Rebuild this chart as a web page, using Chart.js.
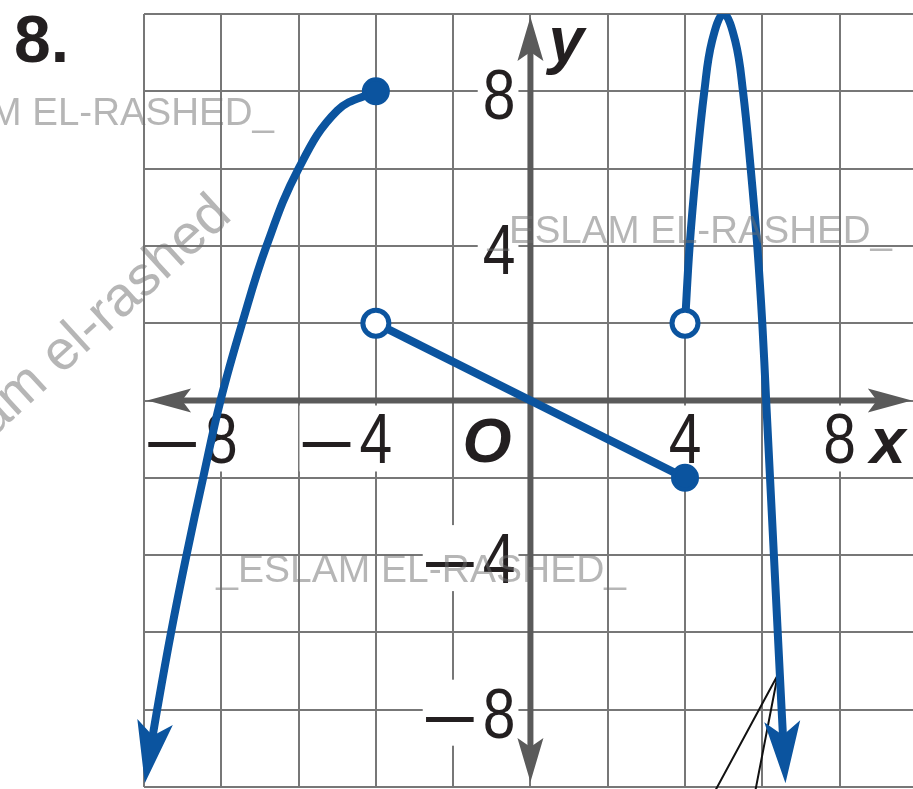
<!DOCTYPE html>
<html>
<head>
<meta charset="utf-8">
<script src="https://cdn.jsdelivr.net/npm/chart.js@4.4.0/dist/chart.umd.min.js"></script>
<style>
  html, body { margin: 0; padding: 0; background: #fff; overflow: hidden; }
  canvas { display: block; }
</style>
</head>
<body>
<canvas id="graph" width="913" height="789"></canvas>
<script>
// left branch (arrow at the lower end)
const leftX = [-9.98, -9.66, -9.3, -8.9, -8.47, -8.02, -7.46, -6.83, -6.0, -5.0, -4.0];
const leftY = [-9.9, -8, -6, -4, -2, 0, 2, 4, 6, 7.5, 8];
// middle piece
const midX = [-4, 4];
const midY = [2, -2];
// right branch (arrow at the lower end)
const rightX = [4, 4.12, 4.29, 4.5, 4.7, 5, 5.3, 5.5, 5.7, 5.87, 6.0, 6.1, 6.3, 6.5, 6.6];
const rightY = [2, 4, 6, 8, 9.3, 10, 9.3, 8, 6, 4, 2, 0, -4, -8, -9.9];
// endpoints
const closedX = [-4, 4];
const closedY = [8, -2];
const openX = [-4, 4];
const openY = [2, 2];
// thin black pointer
const pointerX = [4.78, 6.4, 5.82];
const pointerY = [-10.1, -7.1, -10.1];

const xTicks = [-8, -4, 4, 8];
const yTicks = [-8, -4, 4, 8];

const blue = '#0b549f';
const ink = '#231f20';
const axisGray = '#5a5a5a';

function pts(xs, ys) {
  return xs.map((x, i) => ({ x: x, y: ys[i] }));
}

function unit(a, b) {
  const dx = b.x - a.x, dy = b.y - a.y;
  const d = Math.hypot(dx, dy);
  return { x: dx / d, y: dy / d };
}

// swept arrow head pointing from -> tip
function arrowHead(ctx, tip, from, len, half, notch, color) {
  const u = unit(from, tip);
  const bx = tip.x - u.x * len, by = tip.y - u.y * len;
  ctx.beginPath();
  ctx.moveTo(tip.x, tip.y);
  ctx.lineTo(bx - u.y * half, by + u.x * half);
  ctx.lineTo(tip.x - u.x * (len - notch), tip.y - u.y * (len - notch));
  ctx.lineTo(bx + u.y * half, by - u.x * half);
  ctx.closePath();
  ctx.fillStyle = color;
  ctx.fill();
}

const ARROW = { len: 62, half: 18, notch: 14, cut: 20 };

function headPoints(meta, end) {
  const p = meta.data;
  if (end === 'start') return { tip: p[0], from: p[1] };
  return { tip: p[p.length - 1], from: p[p.length - 2] };
}

const curveArrows = {
  id: 'curveArrows',
  beforeDatasetDraw(chart, args) {
    const ds = chart.data.datasets[args.index];
    if (!ds.arrow) return;
    const { tip, from } = headPoints(args.meta, ds.arrow);
    const u = unit(from, tip);
    const cx = tip.x - u.x * ARROW.cut, cy = tip.y - u.y * ARROW.cut;
    const R = 3000;
    const ctx = chart.ctx;
    // keep the thick line behind the arrow head
    ctx.save();
    ctx.beginPath();
    ctx.moveTo(cx - u.y * R, cy + u.x * R);
    ctx.lineTo(cx + u.y * R, cy - u.x * R);
    ctx.lineTo(cx + u.y * R - u.x * R, cy - u.x * R - u.y * R);
    ctx.lineTo(cx - u.y * R - u.x * R, cy + u.x * R - u.y * R);
    ctx.closePath();
    ctx.clip();
  },
  afterDatasetDraw(chart, args) {
    const ds = chart.data.datasets[args.index];
    if (!ds.arrow) return;
    chart.ctx.restore();
    const { tip, from } = headPoints(args.meta, ds.arrow);
    arrowHead(chart.ctx, tip, from, ARROW.len, ARROW.half, ARROW.notch, ds.borderColor);
  }
};

const numFont = '70px "Liberation Sans", Arial, sans-serif';
const NUM_SX = 0.84;

function numBox(ctx, n, digitCenter) {
  ctx.font = numFont;
  const w = ctx.measureText(String(Math.abs(n))).width * NUM_SX;
  return { left: digitCenter - w / 2, right: digitCenter + w / 2, w: w };
}

function drawNum(ctx, n, left, baseline) {
  ctx.font = numFont;
  ctx.fillStyle = ink;
  ctx.textBaseline = 'alphabetic';
  ctx.save();
  ctx.translate(left, baseline);
  ctx.scale(NUM_SX, 1);
  ctx.textAlign = 'left';
  ctx.fillText(String(Math.abs(n)), 0, 0);
  ctx.restore();
  if (n < 0) {
    // long thin minus sign
    ctx.save();
    ctx.translate(left - 4, baseline + 5);
    ctx.scale(1.4, 1);
    ctx.textAlign = 'right';
    ctx.fillText('\u2212', 0, 0);
    ctx.restore();
  }
}

const axesAndLabels = {
  id: 'axesAndLabels',
  beforeDatasetsDraw(chart) {
    const ctx = chart.ctx;
    const xs = chart.scales.x, ys = chart.scales.y;
    const ox = xs.getPixelForValue(0), oy = ys.getPixelForValue(0);

    const xl = xTicks.map(v => {
      const b = numBox(ctx, v, xs.getPixelForValue(v));
      return { v: v, b: b, base: oy + 62 };
    });
    const yl = yTicks.map(v => {
      const right = ox - 15;
      const b = numBox(ctx, v, 0);
      const left = right - b.w;
      return { v: v, b: { left: left, right: right, w: b.w }, base: ys.getPixelForValue(v) + 28 };
    });

    // white boxes behind the numbers
    ctx.save();
    ctx.fillStyle = '#fff';
    xl.forEach(l => {
      const x0 = l.b.left - (l.v < 0 ? 60 : 6);
      ctx.fillRect(x0, oy + 5, l.b.right + 6 - x0, 66);
    });
    yl.forEach(l => {
      const x0 = l.b.left - (l.v < 0 ? 60 : 5);
      ctx.fillRect(x0, l.base - 58, ox - 12 - x0, 66);
    });

    // axes with arrow heads
    const xa = xs.getPixelForValue(-9.92), xb = xs.getPixelForValue(9.87);
    const ya = ys.getPixelForValue(9.92), yb = ys.getPixelForValue(-9.87);
    ctx.strokeStyle = axisGray;
    ctx.lineWidth = 6;
    ctx.beginPath();
    ctx.moveTo(xa + 30, oy); ctx.lineTo(xb - 30, oy);
    ctx.moveTo(ox, ya + 30); ctx.lineTo(ox, yb - 30);
    ctx.stroke();
    arrowHead(ctx, { x: xa, y: oy }, { x: ox, y: oy }, 44, 12, 9, axisGray);
    arrowHead(ctx, { x: xb, y: oy }, { x: ox, y: oy }, 44, 12, 9, axisGray);
    arrowHead(ctx, { x: ox, y: ya }, { x: ox, y: oy }, 44, 13, 9, axisGray);
    arrowHead(ctx, { x: ox, y: yb }, { x: ox, y: oy }, 44, 13, 9, axisGray);

    xl.forEach(l => drawNum(ctx, l.v, l.b.left, l.base));
    yl.forEach(l => drawNum(ctx, l.v, l.b.left, l.base));

    // origin and axis names
    ctx.fillStyle = ink;
    ctx.textAlign = 'left';
    ctx.textBaseline = 'alphabetic';
    ctx.font = 'italic bold 63px "Liberation Sans", Arial, sans-serif';
    ctx.fillText('O', ox - 68, oy + 61);
    ctx.font = 'italic bold 64px "Liberation Sans", Arial, sans-serif';
    ctx.fillText('x', 870, oy + 62);
    ctx.fillText('y', ox + 18, 62);

    // problem number
    ctx.font = 'bold 66px "Liberation Sans", Arial, sans-serif';
    ctx.fillText('8.', 14, 62);
    ctx.restore();
  },
  afterDraw(chart) {
    const ctx = chart.ctx;
    ctx.save();
    ctx.fillStyle = 'rgba(110,110,110,0.5)';
    ctx.textBaseline = 'alphabetic';
    ctx.textAlign = 'right';
    ctx.font = '38.5px "Liberation Sans", Arial, sans-serif';
    ctx.fillText('_ESLAM EL-RASHED_', 274, 125);
    ctx.fillText('_ESLAM EL-RASHED_', 892, 243);
    ctx.font = '39px "Liberation Sans", Arial, sans-serif';
    ctx.fillText('_ESLAM EL-RASHED_', 626, 582);
    ctx.translate(76, 341);
    ctx.rotate(-42.4 * Math.PI / 180);
    ctx.textAlign = 'center';
    ctx.textBaseline = 'middle';
    ctx.font = '56px "Liberation Sans", Arial, sans-serif';
    ctx.fillText('eslam el-rashed', 0, 0);
    ctx.restore();
  }
};

const data = {
  datasets: [
    {
      data: pts(openX, openY),
      pointRadius: 13,
      pointBorderWidth: 5,
      pointBackgroundColor: '#fff',
      pointBorderColor: blue,
      showLine: false
    },
    {
      data: pts(closedX, closedY),
      pointRadius: 12,
      pointBorderWidth: 4,
      pointBackgroundColor: blue,
      pointBorderColor: blue,
      showLine: false
    },
    {
      data: pts(leftX, leftY),
      arrow: 'start',
      showLine: true,
      borderColor: blue,
      borderWidth: 8,
      pointRadius: 0,
      tension: 0.4
    },
    {
      data: pts(midX, midY),
      showLine: true,
      borderColor: blue,
      borderWidth: 8,
      pointRadius: 0
    },
    {
      data: pts(rightX, rightY),
      arrow: 'end',
      showLine: true,
      borderColor: blue,
      borderWidth: 8,
      pointRadius: 0,
      tension: 0.4
    },
    {
      data: pts(pointerX, pointerY),
      showLine: true,
      borderColor: '#111',
      borderWidth: 2,
      pointRadius: 0,
      clip: false
    }
  ]
};

const gridColor = '#777';

const config = {
  type: 'scatter',
  data: data,
  options: {
    responsive: false,
    animation: false,
    events: [],
    layout: { autoPadding: false, padding: { left: 144, top: 14, right: 0, bottom: 2 } },
    plugins: {
      legend: { display: false },
      tooltip: { enabled: false }
    },
    scales: {
      x: {
        type: 'linear',
        min: -10,
        max: 9.9,
        ticks: { display: false, stepSize: 2 },
        afterBuildTicks: (axis) => {
          axis.ticks = axis.ticks.filter(t => t.value % 2 === 0);
        },
        grid: { color: gridColor, lineWidth: 2, drawTicks: false },
        border: { display: false }
      },
      y: {
        type: 'linear',
        min: -10,
        max: 10,
        ticks: { display: false, stepSize: 2 },
        grid: { color: gridColor, lineWidth: 2, drawTicks: false },
        border: { display: false }
      }
    }
  },
  plugins: [axesAndLabels, curveArrows]
};

const myChart = new Chart(document.getElementById('graph'), config);
</script>
</body>
</html>
